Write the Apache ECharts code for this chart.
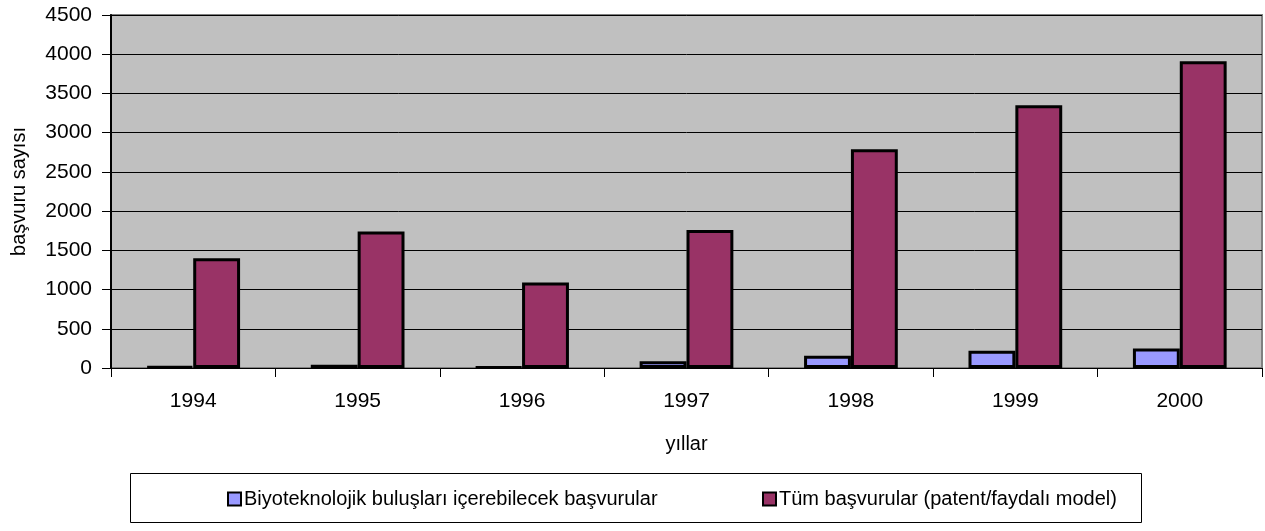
<!DOCTYPE html>
<html>
<head>
<meta charset="utf-8">
<script src="https://cdn.jsdelivr.net/npm/echarts@6/dist/echarts.min.js"></script>
<style>html,body{margin:0;padding:0;background:#fff;}#c{width:1265px;height:531px;}</style>
</head>
<body>
<div id="c"></div>
<script>
const categories = ['1994','1995','1996','1997','1998','1999','2000'];
const biotechValues = [20, 40, 10, 85, 155, 220, 250];
const allValues = [1400, 1740, 1090, 1760, 2790, 3350, 3910];
const seriesNames = ['Biyoteknolojik buluşları içerebilecek başvurular', 'Tüm başvurular (patent/faydalı model)'];
const xAxisName = 'yıllar';
const yAxisName = 'başvuru sayısı';

const font = 'Liberation Sans, Arial, sans-serif';
const chart = echarts.init(document.getElementById('c'), null, {renderer: 'canvas'});
chart.setOption({
  animation: false,
  backgroundColor: '#ffffff',
  textStyle: {fontFamily: font, color: '#000'},
  grid: {left: 111, right: 3, top: 15, bottom: 163, show: true, backgroundColor: '#C0C0C0', borderColor: '#808080', borderWidth: 2, containLabel: false},
  legend: [
    {data: [seriesNames[0]], left: 222, top: 484, itemWidth: 13, itemHeight: 13, itemGap: 5, icon: 'rect',
     itemStyle: {borderColor: '#000', borderWidth: 2},
     textStyle: {fontFamily: font, fontSize: 20, color: '#000', padding: [0,0,0,-2]}},
    {data: [seriesNames[1]], left: 757, top: 484, itemWidth: 13, itemHeight: 13, itemGap: 5, icon: 'rect',
     itemStyle: {borderColor: '#000', borderWidth: 2},
     textStyle: {fontFamily: font, fontSize: 20, color: '#000', padding: [0,0,0,-2]}}
  ],
  graphic: [{type: 'rect', left: 128, top: 471, shape: {width: 1011, height: 49}, style: {fill: 'none', stroke: '#000', lineWidth: 1}, silent: true}],
  xAxis: {
    type: 'category', data: categories,
    name: xAxisName, nameLocation: 'middle', nameGap: 66,
    nameTextStyle: {fontFamily: font, fontSize: 20, color: '#000'},
    axisLine: {lineStyle: {color: '#000', width: 1}},
    axisTick: {show: true, length: 9, lineStyle: {color: '#000'}},
    axisLabel: {fontFamily: font, fontSize: 21, color: '#000', margin: 23}
  },
  yAxis: {
    type: 'value', min: 0, max: 4500, interval: 500,
    name: yAxisName, nameLocation: 'middle', nameGap: 82,
    nameTextStyle: {fontFamily: font, fontSize: 20, color: '#000'},
    axisLine: {show: true, lineStyle: {color: '#000', width: 2}},
    axisTick: {show: true, length: 9, lineStyle: {color: '#000'}},
    axisLabel: {fontFamily: font, fontSize: 21, color: '#000', margin: 19, formatter: function (v) { return String(v); }},
    splitLine: {show: true, lineStyle: {color: '#000', width: 1}}
  },
  series: [
    {name: seriesNames[0], type: 'bar', data: biotechValues, barGap: '0%', barCategoryGap: '43%',
     itemStyle: {color: '#9999FF', borderColor: '#000', borderWidth: 3}},
    {name: seriesNames[1], type: 'bar', data: allValues, barGap: '0%', barCategoryGap: '43%',
     itemStyle: {color: '#993366', borderColor: '#000', borderWidth: 3}}
  ]
});
</script>
</body>
</html>
